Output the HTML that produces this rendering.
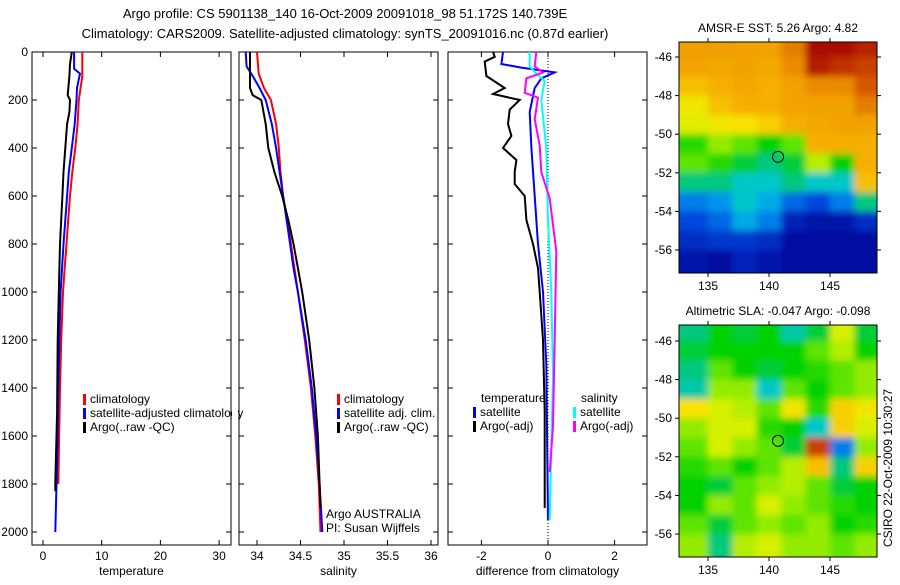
<!DOCTYPE html>
<html><head><meta charset="utf-8">
<style>
body{margin:0;background:#fff;}
svg text{font-family:"Liberation Sans",sans-serif;font-size:12px;fill:#000;}
</style></head>
<body>
<svg id="fig" width="900" height="580" xmlns="http://www.w3.org/2000/svg">
<defs>
<filter id="blur1" x="-5%" y="-5%" width="110%" height="110%"><feGaussianBlur stdDeviation="3.5"/></filter>
<clipPath id="clipM1"><rect x="679" y="42" width="198" height="231"/></clipPath>
<clipPath id="clipM2"><rect x="679" y="325" width="198" height="232"/></clipPath>
</defs>
<text x="345" y="18" text-anchor="middle" style="font-size:13px">Argo profile: CS 5901138_140 16-Oct-2009 20091018_98 51.172S 140.739E</text>
<text x="345" y="38" text-anchor="middle" style="font-size:13px">Climatology: CARS2009. Satellite-adjusted climatology: synTS_20091016.nc (0.87d earlier)</text>
<g id="g"></g>
<text transform="translate(892,468) rotate(-90)" text-anchor="middle">CSIRO 22-Oct-2009 10:30:27</text>
</svg>
<script>
// ---- depth axis ----
const depthTicks=[0,200,400,600,800,1000,1200,1400,1600,1800,2000];
// ---- temperature panel data ----
const tempTicks=[0,10,20,30];
const tClimD=[0,100,200,300,400,500,600,700,800,900,1000,1200,1400,1800];
const tClimV=[6.7,6.7,6.1,5.9,5.5,5.0,4.6,4.3,4.0,3.7,3.4,3.1,2.9,2.6];
const tSatD=[0,70,90,150,200,300,400,500,600,700,800,1000,1200,1400,1600,1800,2000];
const tSatV=[5.3,5.3,6.3,5.8,5.7,5.4,4.9,4.4,4.1,3.8,3.5,3.0,2.8,2.6,2.5,2.3,2.1];
const tArgoD=[0,50,100,180,200,250,300,400,500,600,700,800,1000,1200,1500,1800,1830];
const tArgoV=[4.9,4.6,4.5,4.2,4.6,4.5,4.1,3.8,3.5,3.3,3.1,2.9,2.7,2.5,2.4,2.1,2.1];
// ---- salinity panel data ----
const salTicks=[34,34.5,35,35.5,36];
const sClimD=[0,90,150,200,300,400,500,600,700,800,900,1000,1200,1400,1600,1800,2000];
const sClimV=[34.0,34.02,34.08,34.16,34.22,34.25,34.27,34.3,34.35,34.39,34.43,34.47,34.55,34.62,34.67,34.71,34.73];
const sSatD=[0,60,100,150,200,300,400,500,600,700,800,900,1000,1200,1400,1600,1800,2000];
const sSatV=[33.87,33.88,33.95,34.03,34.1,34.17,34.22,34.26,34.3,34.34,34.38,34.42,34.47,34.56,34.63,34.68,34.72,34.75];
const sArgoD=[0,150,180,200,300,400,500,600,700,800,900,1000,1200,1400,1600,1800,1900];
const sArgoV=[33.92,33.92,33.95,34.05,34.1,34.13,34.2,34.29,34.36,34.42,34.47,34.52,34.6,34.66,34.7,34.72,34.73];
// ---- difference panel data ----
const diffTicks=[-2,0,2];
const dTArgoD=[0,20,40,100,150,175,200,240,300,350,400,450,500,550,600,700,800,900,1000,1200,1500,1900];
const dTArgoV=[-1.65,-1.6,-1.9,-1.85,-1.3,-1.65,-0.85,-1.15,-1.2,-1.1,-1.35,-0.95,-1.0,-1.0,-0.7,-0.65,-0.45,-0.3,-0.25,-0.15,-0.1,-0.1];
const dTSatD=[0,50,65,85,110,150,250,400,600,800,1000,1300,1950];
const dTSatV=[-1.35,-1.4,-0.8,0.2,-0.2,-0.4,-0.55,-0.5,-0.4,-0.3,-0.15,-0.05,0];
const dSSatD=[0,60,90,120,200,400,700,1000,1350,1950];
const dSSatV=[-0.55,-0.55,-0.35,-0.1,-0.2,-0.05,0,0.1,0.15,0.05];
const dSArgoD=[0,60,85,110,170,190,280,390,500,610,830,1200,1560,1750];
const dSArgoV=[-0.35,-0.4,-0.15,-0.65,-0.7,-0.3,-0.4,-0.25,-0.2,0.05,0.25,0.2,0.15,0.05];
// ---- map data ----
const mapLons=[134,136,138,140,142,144,146,148];
const mapLats=[-45.5,-46.5,-47.5,-48.5,-49.5,-50.5,-51.5,-52.5,-53.5,-54.5,-55.5,-56.5];
const lonTicks=[135,140,145];
const latTicks=[-46,-48,-50,-52,-54,-56];
const sstGrid=[
[.75,.75,.74,.74,.80,.95,.95,.92],
[.74,.73,.74,.73,.78,.93,.90,.88],
[.70,.72,.73,.72,.74,.78,.78,.85],
[.65,.70,.72,.72,.74,.74,.74,.80],
[.63,.65,.66,.68,.72,.73,.74,.74],
[.52,.58,.55,.50,.55,.72,.72,.72],
[.55,.52,.48,.45,.48,.60,.50,.72],
[.45,.45,.40,.40,.45,.40,.40,.70],
[.30,.32,.40,.35,.28,.25,.30,.45],
[.25,.28,.35,.30,.18,.15,.15,.20],
[.20,.22,.22,.20,.12,.12,.12,.12],
[.15,.12,.18,.15,.12,.12,.12,.12]];
const slaGrid=[
[.45,.50,.48,.50,.42,.48,.62,.48],
[.48,.50,.50,.50,.50,.55,.60,.50],
[.45,.55,.50,.48,.50,.52,.55,.58],
[.42,.58,.58,.40,.55,.50,.55,.58],
[.66,.62,.60,.55,.65,.52,.68,.65],
[.58,.62,.62,.52,.50,.40,.68,.62],
[.55,.62,.58,.55,.48,.88,.30,.58],
[.52,.55,.50,.55,.60,.70,.45,.68],
[.50,.48,.55,.58,.60,.55,.48,.50],
[.50,.58,.55,.62,.58,.55,.52,.50],
[.55,.48,.55,.58,.55,.58,.50,.52],
[.58,.45,.60,.62,.58,.58,.55,.58]];
const floatLon=140.739, floatLat=-51.172;

const NS="http://www.w3.org/2000/svg";
const G=document.getElementById('g');
function mk(tag,attrs,parent){const e=document.createElementNS(NS,tag);for(const k in attrs)e.setAttribute(k,attrs[k]);(parent||G).appendChild(e);return e;}
const yD=d=>52+d*0.24;
const TOP=52,BOT=545;

function panel(name,x0,x1,xs,ticks,label,fmt){
  const fr=mk('rect',{x:x0,y:TOP,width:x1-x0,height:BOT-TOP,fill:'none',stroke:'#000','stroke-width':1});
  
  
  ticks.forEach(t=>{
    const x=xs(t);
    mk('line',{x1:x,x2:x,y1:BOT,y2:BOT-5,stroke:'#000'});
    mk('line',{x1:x,x2:x,y1:TOP,y2:TOP+5,stroke:'#000'});
    const tx=mk('text',{x:x,y:BOT+15,'text-anchor':'middle'});tx.textContent=fmt?fmt(t):t;
    
    
  });
  depthTicks.forEach(d=>{
    const y=yD(d);
    mk('line',{x1:x0,x2:x0+5,y1:y,y2:y,stroke:'#000'});
    mk('line',{x1:x1,x2:x1-5,y1:y,y2:y,stroke:'#000'});
  });
  const lb=mk('text',{x:(x0+x1)/2,y:BOT+30,'text-anchor':'middle'});lb.textContent=label;
  
  
}
function line(name,D,V,xs,color){
  const p=mk('polyline',{points:D.map((d,i)=>xs(V[i]).toFixed(1)+','+yD(d).toFixed(1)).join(' '),fill:'none',stroke:color,'stroke-width':2});
  
  
}
function legend(name,x,y,color,txt){
  mk('rect',{x:x,y:y-9,width:3,height:11,fill:color});
  const t=mk('text',{x:x+7,y:y});t.textContent=txt;
  
  
}
depthTicks.forEach(d=>{const t=mk('text',{x:28,y:yD(d)+4,'text-anchor':'end'});t.textContent=d;
  
  });

const xT=v=>43+v*5.87;
panel('temperature-panel',32,231,xT,tempTicks,'temperature');
line('temp-climatology-line',tClimD,tClimV,xT,'#f00');
line('temp-satellite-line',tSatD,tSatV,xT,'#00f');
line('temp-argo-line',tArgoD,tArgoV,xT,'#000');
legend('legend-climatology',83,403,'#f00','climatology');
legend('legend-satellite-adjusted',83,417,'#00f','satellite-adjusted climatology');
legend('legend-argo-raw',83,431,'#000','Argo(..raw -QC)');
mk('rect',{x:232,y:405,width:6,height:15,fill:'#fff'});

const xS=v=>257+(v-34)*87;
panel('salinity-panel',239,438,xS,salTicks,'salinity');
line('sal-climatology-line',sClimD,sClimV,xS,'#f00');
line('sal-satellite-line',sSatD,sSatV,xS,'#00f');
line('sal-argo-line',sArgoD,sArgoV,xS,'#000');
legend('legend-sal-climatology',337,403,'#f00','climatology');
legend('legend-sal-satellite',337,417,'#00f','satellite adj. clim.');
legend('legend-sal-argo',337,431,'#000','Argo(..raw -QC)');
const a1=mk('text',{x:326,y:518});a1.textContent='Argo AUSTRALIA';


const a2=mk('text',{x:326,y:532});a2.textContent='PI: Susan Wijffels';



const xDf=v=>548+v*33.3;
panel('difference-panel',448,647,xDf,diffTicks,'difference from climatology');
const zl=mk('line',{x1:xDf(0),x2:xDf(0),y1:TOP,y2:BOT,stroke:'#000','stroke-dasharray':'1,2'});


line('diff-temp-argo-line',dTArgoD,dTArgoV,xDf,'#000');
line('diff-temp-satellite-line',dTSatD,dTSatV,xDf,'#00f');
line('diff-sal-satellite-line',dSSatD,dSSatV,xDf,'#0ff');
line('diff-sal-argo-line',dSArgoD,dSArgoV,xDf,'#f0f');
const lt=mk('text',{x:481,y:402});lt.textContent='temperature';


legend('legend-diff-temp-sat',473,416,'#00f','satellite');
legend('legend-diff-temp-argo',473,430,'#000','Argo(-adj)');
const ls=mk('text',{x:581,y:402});ls.textContent='salinity';


legend('legend-diff-sal-sat',573,416,'#0ff','satellite');
legend('legend-diff-sal-argo',573,430,'#f0f','Argo(-adj)');

// custom colormap matching reference
const cmap=[[0,[0,0,120]],[0.15,[0,20,170]],[0.25,[0,70,220]],[0.33,[0,160,240]],[0.4,[0,200,200]],[0.46,[0,200,110]],[0.5,[0,210,0]],[0.57,[130,235,0]],[0.62,[215,240,0]],[0.66,[250,225,0]],[0.72,[245,175,0]],[0.78,[235,140,0]],[0.86,[210,80,0]],[0.95,[170,10,0]],[1,[150,0,0]]];
function cm(v){
  for(let i=1;i<cmap.length;i++){if(v<=cmap[i][0]){const a=cmap[i-1],b=cmap[i];const f=(v-a[0])/(b[0]-a[0]);
    return 'rgb('+a[1].map((c,k)=>Math.round(c+(b[1][k]-c)*f)).join(',')+')';}}
  return 'rgb(150,0,0)';
}
function map(name,top,bot,lat46,lat56,grid,title,clip){
  const xL=lon=>708+(lon-135)*12.2;
  const yL=lat=>lat46+(-46-lat)*(lat56-lat46)/10;
  const gg=mk('g',{'clip-path':'url(#'+clip+')'});
  const inner=mk('g',{filter:'url(#blur1)'},gg);
  
  
  const cw=2*12.2, ch=(lat56-lat46)/10;
  grid.forEach((row,i)=>row.forEach((v,j)=>{
    const c=mk('rect',{x:xL(mapLons[j])-cw/2-(j==0?20:0),y:yL(mapLats[i])-ch/2-(i==0?20:0),width:cw+1+(j==0||j==7?20:0),height:ch+1+(i==0||i==11?20:0),fill:cm(v)},inner);
    
    
  }));
  const fr=mk('rect',{x:679,y:top,width:198,height:bot-top,fill:'none',stroke:'#000'});
  
  
  lonTicks.forEach(l=>{const x=xL(l);
    mk('line',{x1:x,x2:x,y1:top,y2:top-4,stroke:'#000'});
    mk('line',{x1:x,x2:x,y1:bot,y2:bot+4,stroke:'#000'});
    const t=mk('text',{x:x,y:bot+17,'text-anchor':'middle'});t.textContent=l;
    
    });
  latTicks.forEach(l=>{const y=yL(l);
    mk('line',{x1:679,x2:675,y1:y,y2:y,stroke:'#000'});
    mk('line',{x1:877,x2:881,y1:y,y2:y,stroke:'#000'});
    const t=mk('text',{x:672,y:y+4,'text-anchor':'end'});t.textContent=l;
    
    });
  const c=mk('circle',{cx:xL(floatLon),cy:yL(floatLat),r:5.5,fill:'none',stroke:'#000'});
  
  
  const t=mk('text',{x:778,y:top-10,'text-anchor':'middle'});t.textContent=title;
  
  
}
map('sst-map',42,273,57,250,sstGrid,'AMSR-E SST: 5.26 Argo: 4.82','clipM1');
map('sla-map',325,557,341,534,slaGrid,'Altimetric SLA: -0.047 Argo: -0.098','clipM2');
</script>
</body></html>
